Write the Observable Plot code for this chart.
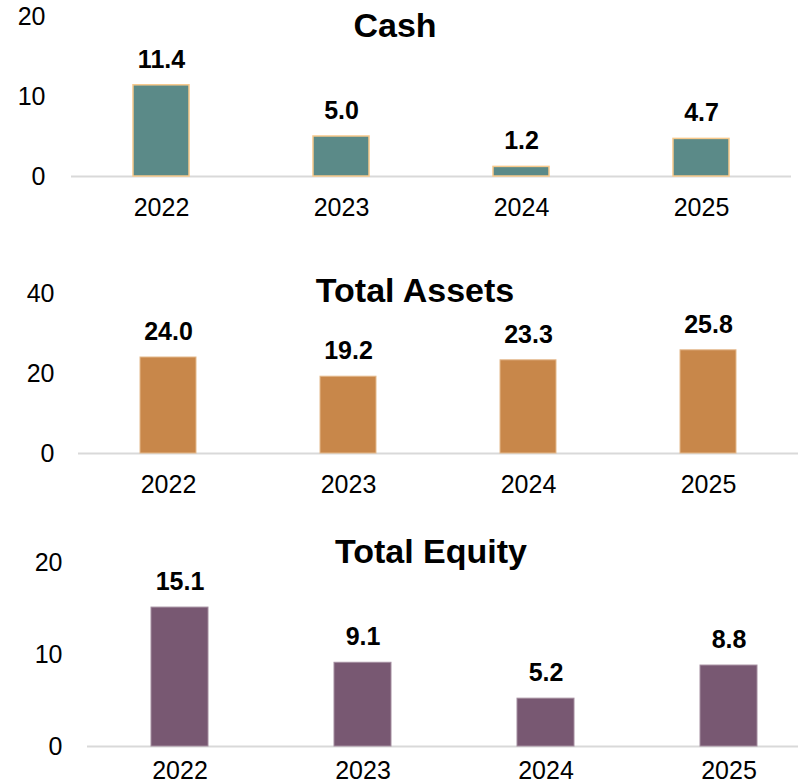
<!DOCTYPE html>
<html>
<head>
<meta charset="utf-8">
<script src="https://cdn.jsdelivr.net/npm/d3@7"></script>
<script src="https://cdn.jsdelivr.net/npm/@observablehq/plot@0.6"></script>
<style>
  html, body { margin: 0; padding: 0; background: #fff; overflow: hidden; }
  #chart { width: 798px; height: 784px; position: relative; }
  #chart svg { display: block; overflow: hidden; }
</style>
</head>
<body>
<div id="chart"></div>
<script>
// ---- data ----
const years = ["2022", "2023", "2024", "2025"];
const cash = [11.4, 5.0, 1.2, 4.7];
const totalAssets = [24.0, 19.2, 23.3, 25.8];
const totalEquity = [15.1, 9.1, 5.2, 8.8];
const titles = ["Cash", "Total Assets", "Total Equity"];
const cashTicks = [0, 10, 20];
const assetsTicks = [0, 20, 40];
const equityTicks = [0, 10, 20];

const FONT = "'Liberation Sans', Arial, Helvetica, sans-serif";

function panel(cfg) {
  const data = years.map((y, i) => ({year: y, value: cfg.values[i]}));
  const xScale = {type: "band", domain: years, paddingInner: 0.69, paddingOuter: 0.345};
  if (cfg.xRange) xScale.range = cfg.xRange;
  const svg = Plot.plot({
    width: 798,
    height: cfg.height,
    marginTop: cfg.marginTop,
    marginBottom: cfg.marginBottom,
    marginLeft: cfg.marginLeft,
    marginRight: cfg.marginRight,
    style: {fontFamily: FONT, fontSize: "25px", color: "#000", background: "#fff"},
    x: xScale,
    y: {domain: [0, cfg.ticks[cfg.ticks.length - 1]]},
    marks: [
      Plot.ruleY([0], {stroke: "#d9d9d9", strokeWidth: 2}),
      Plot.barY(data, {x: "year", y: "value", fill: cfg.fill, stroke: cfg.stroke, strokeWidth: cfg.strokeWidth}),
      Plot.text(data, {x: "year", y: "value", text: d => d.value.toFixed(1), dy: -25.5,
        fontWeight: "bold", fontSize: 25, fill: "#000"}),
      Plot.axisY({ticks: cfg.ticks, tickSize: 0, tickPadding: cfg.yPad, label: null, fontSize: 25}),
      Plot.axisX({tickSize: 0, tickPadding: cfg.xPad, label: null, fontSize: 25})
    ]
  });
  d3.select(svg).append("text")
    .attr("x", cfg.titleX)
    .attr("y", cfg.titleY)
    .attr("text-anchor", "middle")
    .attr("font-family", FONT)
    .attr("font-weight", "bold")
    .attr("font-size", 34)
    .attr("fill", "#000")
    .text(cfg.title);
  const wrap = document.createElement("div");
  wrap.style.height = cfg.height + "px";
  wrap.appendChild(svg);
  document.getElementById("chart").appendChild(wrap);
}

panel({
  title: titles[0], values: cash, ticks: cashTicks,
  fill: "#5b8a88", stroke: "#f7c98b", strokeWidth: 1.5,
  height: 260, marginTop: 16, marginBottom: 84, marginLeft: 71, marginRight: 7,
  yPad: 26, xPad: 22, titleX: 395, titleY: 37
});
panel({
  title: titles[1], values: totalAssets, ticks: assetsTicks,
  fill: "#c8874a", stroke: "#e4b98c", strokeWidth: 1,
  height: 260, marginTop: 33, marginBottom: 67, marginLeft: 78, marginRight: 0,
  yPad: 24, xPad: 22, titleX: 415, titleY: 42
});
panel({
  title: titles[2], values: totalEquity, ticks: equityTicks,
  fill: "#785872", stroke: "#a48d9f", strokeWidth: 1,
  height: 264, marginTop: 42, marginBottom: 38, marginLeft: 87, marginRight: 0,
  xRange: [87.5, 819.5],
  yPad: 25, xPad: 15, titleX: 431, titleY: 43
});
</script>
</body>
</html>
